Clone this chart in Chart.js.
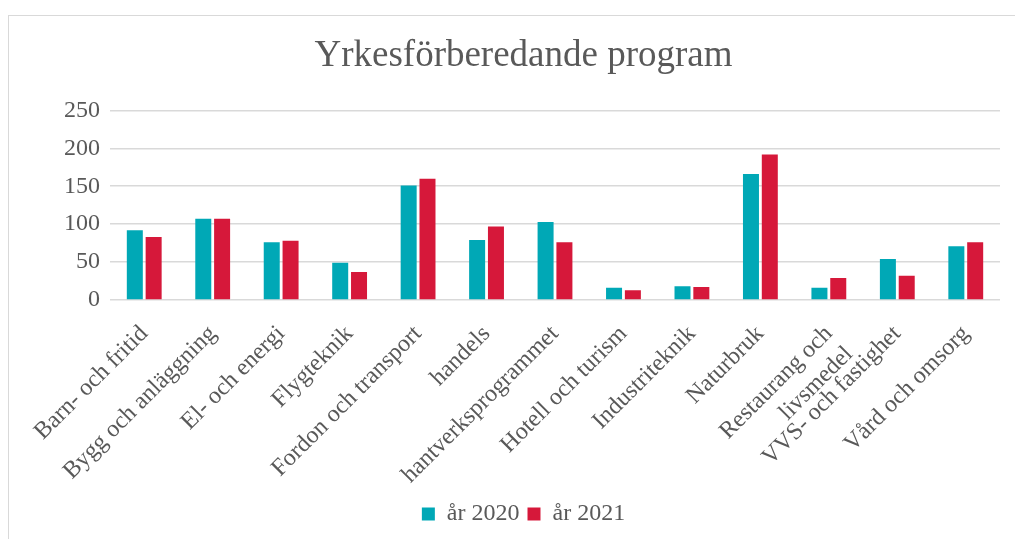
<!DOCTYPE html>
<html>
<head>
<meta charset="utf-8">
<script src="https://cdn.jsdelivr.net/npm/chart.js@4"></script>
<style>
  html, body { margin: 0; padding: 0; background: #fff; overflow: hidden; }
  #frame {
    position: absolute; left: 8px; top: 15px;
    width: 1029px; height: 539px;
    border: 1px solid #d9d9d9;
  }
  #chart { display: block; }
</style>
</head>
<body>
<div id="frame"><canvas id="chart" width="1029" height="539"></canvas></div>
<script>
const categories = [
  'Barn- och fritid',
  'Bygg och anläggning',
  'El- och energi',
  'Flygteknik',
  'Fordon och transport',
  'handels',
  'hantverksprogrammet',
  'Hotell och turism',
  'Industriteknik',
  'Naturbruk',
  ['Restaurang och', 'livsmedel'],
  'VVS- och fastighet',
  'Vård och omsorg'
];
const values2020 = [92, 107, 76, 49, 151, 79, 103, 16, 18, 166, 16, 54, 71];
const values2021 = [83, 107, 78, 37, 160, 97, 76, 13, 17, 192, 29, 32, 76];
const yTicks = [0, 50, 100, 150, 200, 250];

const textColor = '#595959';
const gridColor = '#d9d9d9';
const serif = "'Liberation Serif', 'Times New Roman', serif";

new Chart(document.getElementById('chart'), {
  type: 'bar',
  data: {
    labels: categories,
    datasets: [
      { label: 'år 2020', data: values2020, backgroundColor: '#00a8b6', barPercentage: 0.85, categoryPercentage: 0.55 },
      { label: 'år 2021', data: values2021, backgroundColor: '#d6183a', barPercentage: 0.85, categoryPercentage: 0.55 }
    ]
  },
  options: {
    responsive: false,
    animation: false,
    layout: { padding: { left: 0, right: 0, top: 0, bottom: 19 } },
    plugins: {
      title: {
        display: true,
        text: 'Yrkesförberedande program',
        color: textColor,
        font: { family: serif, size: 37, weight: 'normal' },
        padding: { top: 18, bottom: 32 }
      },
      legend: {
        position: 'bottom',
        labels: {
          color: textColor,
          font: { family: serif, size: 24 },
          boxWidth: 13,
          boxHeight: 13,
          padding: 8
        }
      },
      tooltip: { enabled: false }
    },
    scales: {
      x: {
        grid: { display: false },
        border: { display: false },
        ticks: {
          color: textColor,
          font: { family: serif, size: 24 },
          maxRotation: 45,
          minRotation: 45,
          autoSkip: false,
          padding: 12
        },
        // tall enough that the long rotated labels are not clipped
        afterFit: function(scale) { scale.height = 194; }
      },
      y: {
        min: 0,
        max: 250,
        afterBuildTicks: function(scale) {
          scale.ticks = yTicks.map(v => ({ value: v }));
        },
        grid: { color: gridColor, lineWidth: 1.5, drawTicks: false },
        border: { display: false },
        ticks: {
          color: textColor,
          font: { family: serif, size: 24 },
          padding: 10
        },
        afterFit: function(scale) { scale.width = 101; }
      },
      // empty right-hand spacer so the plot stops where the reference's does
      spacer: {
        type: 'linear',
        position: 'right',
        min: 0,
        max: 250,
        grid: { display: false },
        border: { display: false },
        ticks: { display: false },
        afterFit: function(scale) { scale.width = 38; }
      }
    }
  }
});
</script>
</body>
</html>
